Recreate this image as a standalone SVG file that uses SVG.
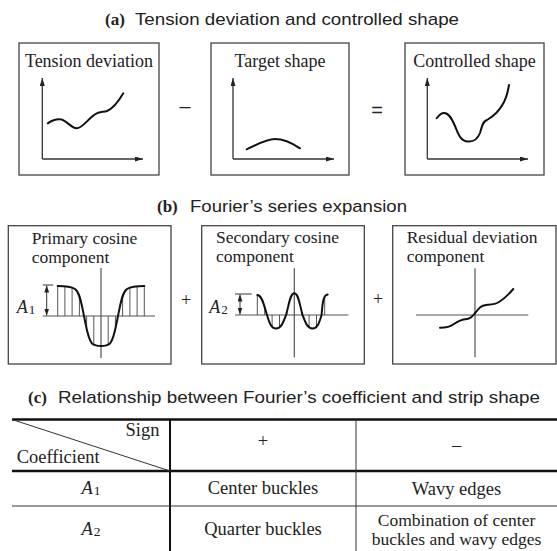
<svg xmlns="http://www.w3.org/2000/svg" width="557" height="551" viewBox="0 0 557 551">
<style>
.ser{font-family:"Liberation Serif","Times New Roman",serif;fill:#222}
.lab{font-size:18px}
.lab2{font-size:17.5px}
.tl{font-size:18.5px}
.bold{font-weight:bold;font-size:17px}
.sans{font-family:"Liberation Sans",Arial,sans-serif;font-size:17px;fill:#222}
.box{fill:none;stroke:#444;stroke-width:1.3}
.ax{fill:none;stroke:#333;stroke-width:1.3}
.ax2{fill:none;stroke:#555;stroke-width:1.2}
.cv{fill:none;stroke:#111;stroke-width:2;stroke-linecap:round}
.ht{stroke:#444;stroke-width:0.9}
.tk{stroke:#111;stroke-width:2.4}
.tn{stroke:#333;stroke-width:1}
.mid{text-anchor:middle}
</style>
<defs>
<marker id="ah" viewBox="0 0 10 10" refX="10" refY="5" markerUnits="userSpaceOnUse" markerWidth="8" markerHeight="5" orient="auto" preserveAspectRatio="none"><path d="M0,0 L10,5 L0,10 z" fill="#222"/></marker>
<marker id="dh" viewBox="0 0 10 10" refX="10" refY="5" markerUnits="userSpaceOnUse" markerWidth="7" markerHeight="5" orient="auto-start-reverse" preserveAspectRatio="none"><path d="M0,0 L10,5 L0,10 z" fill="#222"/></marker>
</defs>

<g id="title-a">
<text class="ser bold" x="105" y="25">(a)</text>
<text class="sans" x="135" y="25" textLength="324" lengthAdjust="spacingAndGlyphs">Tension deviation and controlled shape</text>
</g>

<g id="panel-tension">
<rect class="box" x="19" y="43" width="140" height="132"/>
<text class="ser lab mid" x="89" y="67">Tension deviation</text>
<path class="ax" d="M42.3,159 L42.3,78" marker-end="url(#ah)"/>
<path class="ax" d="M42.3,159 L143,159" marker-end="url(#ah)"/>
<path class="cv" d="M47.7,123.3 C52,120.5 56,119 60,119.3 C66,119.5 71,128.3 76.7,128.3 C83,128.3 89,117 96.7,113.3 C100,111.8 104,112 107,111 C112,109 117,104 123.3,93.3"/>
</g>

<text class="sans mid" x="185" y="113" style="font-size:20px">–</text>

<g id="panel-target">
<rect class="box" x="211" y="43" width="138" height="132"/>
<text class="ser lab mid" x="280" y="67">Target shape</text>
<path class="ax" d="M233,159 L233,78" marker-end="url(#ah)"/>
<path class="ax" d="M233,159 L334,159" marker-end="url(#ah)"/>
<path class="cv" d="M246.7,149.3 C256,145 266,139 275,139 C284,139 292,143 300,148.3"/>
</g>

<text class="sans mid" x="377" y="117" style="font-size:20px">=</text>

<g id="panel-controlled">
<rect class="box" x="405" y="43" width="139" height="132"/>
<text class="ser lab mid" x="474.5" y="67">Controlled shape</text>
<path class="ax" d="M427.3,159 L427.3,78" marker-end="url(#ah)"/>
<path class="ax" d="M427.3,159 L528,159" marker-end="url(#ah)"/>
<path class="cv" d="M436.7,118.3 C439,115 441,113 444,113 C449,113 452,119 455,126 C458,133 460,141 468,141.5 C475,142 478,138 480,133 C482,127 482,122 487,120 C494,116 500,110 504,102 C507,96 508,91 509,85"/>
</g>

<g id="title-b">
<text class="ser bold" x="157" y="212">(b)</text>
<text class="sans" x="190" y="212" textLength="217" lengthAdjust="spacingAndGlyphs">Fourier’s series expansion</text>
</g>

<g id="panel-primary">
<rect class="box" x="8.3" y="225.7" width="162.7" height="138.3"/>
<text class="ser lab2" x="31.7" y="244">Primary cosine</text>
<text class="ser lab2" x="31.7" y="263">component</text>
<path class="ax2" d="M42.7,316 L155,316 M101,268 L101,358"/>
<path class="ht" d="M57.7,316V286 M64.9,316V286.3 M72.1,316V287.5 M79.4,316V296 M86.6,316V328.5 M93.8,316V344.8 M108.2,316V344.8 M115.4,316V328.5 M122.6,316V296 M129.9,316V287.5 M137.1,316V286.3 M144.3,316V286"/>
<path class="cv" d="M57.7,286 C66,286 71,286.5 75,289 C80,292.5 81.5,304 84,316 C86.5,328 88,339 92,343.5 C95,346 98,346 101,346 C104,346 107,346 110,343.5 C114,339 115.5,328 118,316 C120.5,304 122,292.5 127,289 C131,286.5 136,286 144.3,286"/>
<path class="tn" d="M42.7,285 L53.3,285"/>
<path class="tn" d="M46.7,300 L46.7,285.5" marker-end="url(#dh)"/>
<path class="tn" d="M46.7,300 L46.7,315.5" marker-end="url(#dh)"/>
<text class="ser lab" x="16.7" y="313"><tspan font-style="italic">A</tspan><tspan font-size="13" dx="1" dy="1">1</tspan></text>
</g>

<text class="ser mid" x="186" y="306" style="font-size:18px">+</text>

<g id="panel-secondary">
<rect class="box" x="201.7" y="225.7" width="162.6" height="138.3"/>
<text class="ser lab2" x="216" y="243">Secondary cosine</text>
<text class="ser lab2" x="216" y="262">component</text>
<path class="ax2" d="M235,315 L348.3,315 M294.3,268.3 L294.3,357.3"/>
<path class="ht" d="M257.3,315V295 M264.7,315V307 M272.1,315V326.8 M279.5,315V327.2 M286.9,315V312 M301.7,315V312 M309.1,315V327.2 M316.5,315V326.8 M324.7,315V296.7"/>
<path class="cv" d="M257.3,295 C262,295 264,305 267,315 C269.5,323 271,328.5 276,328.5 C281,328.5 283,323 286,315 C289,305 290,293.3 294.3,293.3 C298.6,293.3 299.6,305 302.6,315 C305.6,323 307.6,328.5 312.6,328.5 C317.6,328.5 319.1,323 321.6,315 C322.5,302 323.5,295 327.7,294.5"/>
<path class="tn" d="M235,294 L251.7,294"/>
<path class="tn" d="M240,304.5 L240,294.5" marker-end="url(#dh)"/>
<path class="tn" d="M240,304.5 L240,314.5" marker-end="url(#dh)"/>
<text class="ser lab" x="209.3" y="313"><tspan font-style="italic">A</tspan><tspan font-size="13" dx="1" dy="1">2</tspan></text>
</g>

<text class="ser mid" x="378" y="305" style="font-size:18px">+</text>

<g id="panel-residual">
<rect class="box" x="392.7" y="225.7" width="163.3" height="138.3"/>
<text class="ser lab2" x="406.7" y="243">Residual deviation</text>
<text class="ser lab2" x="406.7" y="262">component</text>
<path class="ax2" d="M416,315 L528.3,315 M475,268.3 L475,357.3"/>
<path class="cv" d="M440,327.7 C445,327.7 450,327 454,324 C458,321 462,319.5 467,319 C472,318.5 473,315 476,312 C479,308 481,305.5 486,305 C491,304.5 495,304.5 499,302 C504,299 509,294 513.3,289"/>
</g>

<g id="title-c">
<text class="ser bold" x="28" y="403">(c)</text>
<text class="sans" x="58" y="403" textLength="482" lengthAdjust="spacingAndGlyphs">Relationship between Fourier’s coefficient and strip shape</text>
</g>

<g id="table">
<path class="tk" d="M12,419.5 L557,419.5 M12,471 L557,471"/>
<path class="tk" style="stroke-width:2" d="M170,419.5 L170,551"/>
<path class="tn" d="M356,419.5 L356,551 M12,506 L557,506"/>
<path class="tn" d="M12,419.5 L170,471"/>
<text class="ser tl" x="159.5" y="436" text-anchor="end">Sign</text>
<text class="ser tl" x="16.7" y="463">Coefficient</text>
<text class="ser tl mid" x="263" y="447">+</text>
<text class="ser tl mid" x="456.5" y="451">–</text>
<text class="ser tl mid" x="91" y="494"><tspan font-style="italic">A</tspan><tspan font-size="13.5" dx="1" dy="1">1</tspan></text>
<text class="ser tl mid" x="263" y="494">Center buckles</text>
<text class="ser tl mid" x="456.5" y="495">Wavy edges</text>
<text class="ser tl mid" x="91" y="535"><tspan font-style="italic">A</tspan><tspan font-size="13.5" dx="1" dy="1">2</tspan></text>
<text class="ser tl mid" x="263" y="535">Quarter buckles</text>
<text class="ser mid" style="font-size:17.5px" x="456.5" y="526">Combination of center</text>
<text class="ser mid" style="font-size:17.5px" x="456.5" y="544.5">buckles and wavy edges</text>
</g>
</svg>
